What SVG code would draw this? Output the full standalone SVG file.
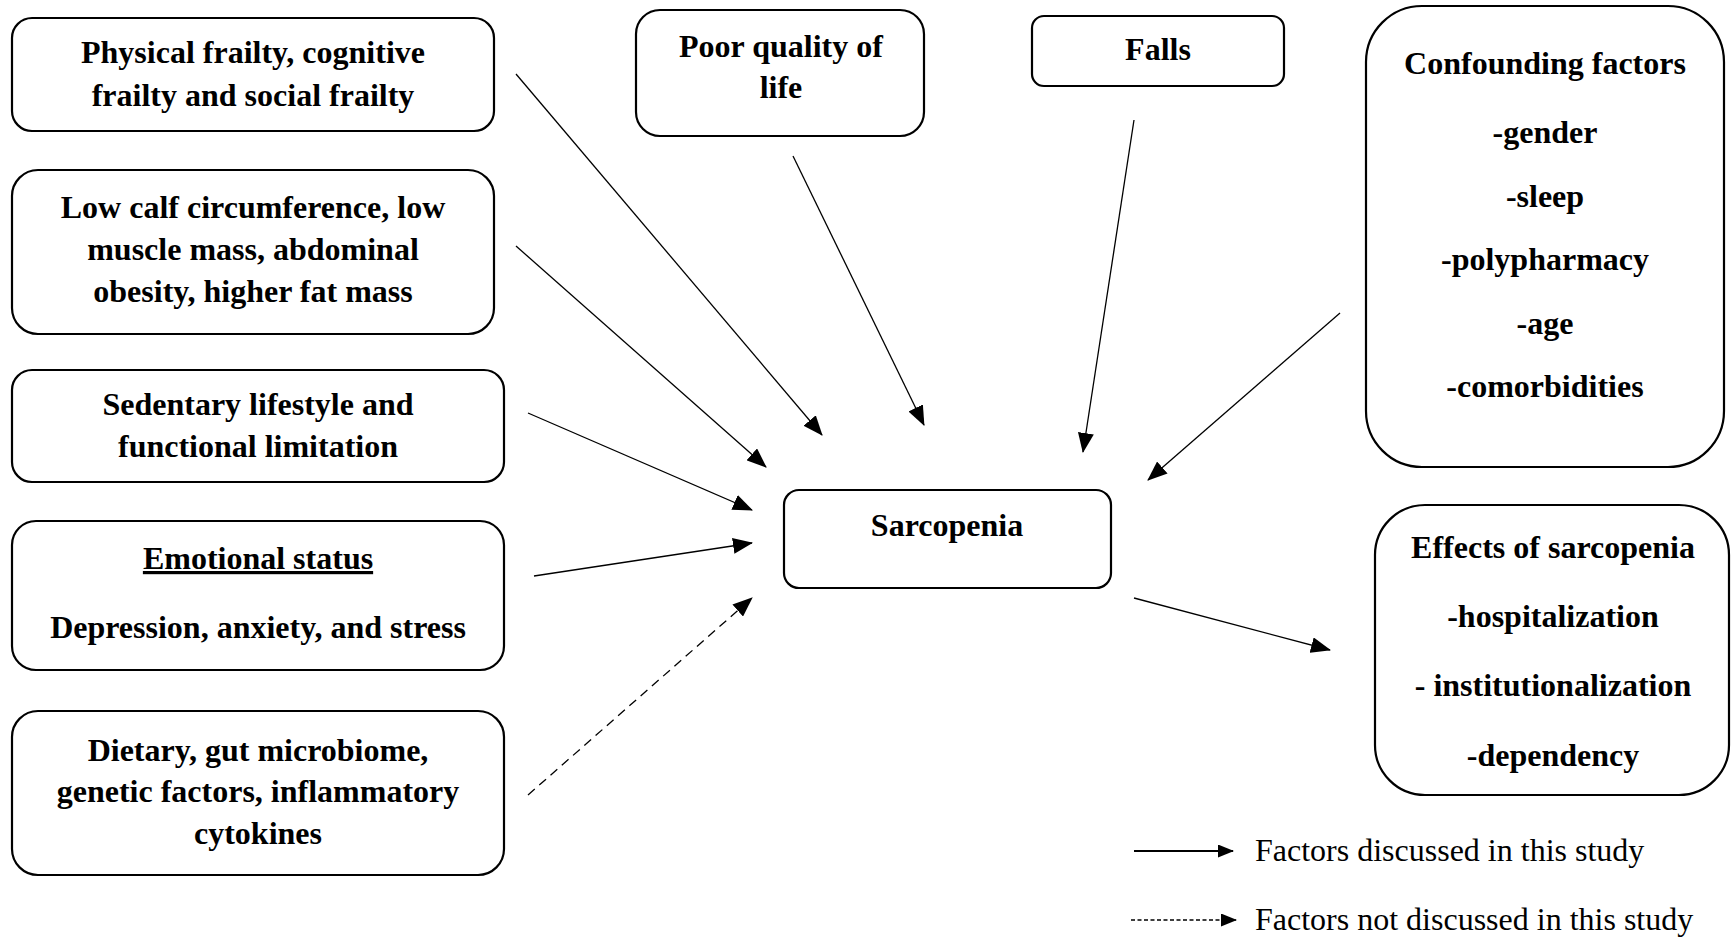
<svg xmlns="http://www.w3.org/2000/svg" width="1732" height="937" viewBox="0 0 1732 937">
<style>
.box{fill:#fff;stroke:#000;stroke-width:2.2}
.t{font-family:"Liberation Serif","Times New Roman",serif;font-weight:bold;font-size:32px;text-anchor:middle;fill:#000}
.lg{font-family:"Liberation Serif","Times New Roman",serif;font-size:32px;fill:#000}
.c{stroke:#000;stroke-width:1.3;fill:none}
</style>
<defs>
<marker id="ah" viewBox="0 0 20 16" refX="19" refY="8" markerWidth="20" markerHeight="16" markerUnits="userSpaceOnUse" orient="auto">
<path d="M0,0 L20,8 L0,16 z" fill="#000"/>
</marker>
<marker id="ahs" viewBox="0 0 16 13" refX="15" refY="6.5" markerWidth="16" markerHeight="13" markerUnits="userSpaceOnUse" orient="auto">
<path d="M0,0 L16,6.5 L0,13 z" fill="#000"/>
</marker>
</defs>
<rect width="1732" height="937" fill="#fff"/>

<g id="node-physical">
<rect class="box" x="12" y="18" width="482" height="113" rx="20"/>
<text class="t" x="253" y="63">Physical frailty, cognitive</text>
<text class="t" x="253" y="106">frailty and social frailty</text>
</g>
<g id="node-lowcalf">
<rect class="box" x="12" y="170" width="482" height="164" rx="26"/>
<text class="t" x="253" y="218">Low calf circumference, low</text>
<text class="t" x="253" y="260">muscle mass, abdominal</text>
<text class="t" x="253" y="302">obesity, higher fat mass</text>
</g>
<g id="node-sedentary">
<rect class="box" x="12" y="370" width="492" height="112" rx="20"/>
<text class="t" x="258" y="415">Sedentary lifestyle and</text>
<text class="t" x="258" y="457">functional limitation</text>
</g>
<g id="node-emotional">
<rect class="box" x="12" y="521" width="492" height="149" rx="24"/>
<text class="t" x="258" y="569" text-decoration="underline">Emotional status</text>
<text class="t" x="258" y="638">Depression, anxiety, and stress</text>
</g>
<g id="node-dietary">
<rect class="box" x="12" y="711" width="492" height="164" rx="26"/>
<text class="t" x="258" y="761">Dietary, gut microbiome,</text>
<text class="t" x="258" y="802">genetic factors, inflammatory</text>
<text class="t" x="258" y="844">cytokines</text>
</g>
<g id="node-quality">
<rect class="box" x="636" y="10" width="288" height="126" rx="24"/>
<text class="t" x="781" y="57">Poor quality of</text>
<text class="t" x="781" y="98">life</text>
</g>
<g id="node-falls">
<rect class="box" x="1032" y="16" width="252" height="70" rx="12"/>
<text class="t" x="1158" y="60">Falls</text>
</g>
<g id="node-confounding">
<rect class="box" x="1366" y="6" width="358" height="461" rx="56"/>
<text class="t" x="1545" y="74">Confounding factors</text>
<text class="t" x="1545" y="143">-gender</text>
<text class="t" x="1545" y="207">-sleep</text>
<text class="t" x="1545" y="270">-polypharmacy</text>
<text class="t" x="1545" y="334">-age</text>
<text class="t" x="1545" y="397">-comorbidities</text>
</g>
<g id="node-sarcopenia">
<rect class="box" x="784" y="490" width="327" height="98" rx="15"/>
<text class="t" x="947" y="536">Sarcopenia</text>
</g>
<g id="node-effects">
<rect class="box" x="1375" y="505" width="354" height="290" rx="50"/>
<text class="t" x="1553" y="558">Effects of sarcopenia</text>
<text class="t" x="1553" y="627">-hospitalization</text>
<text class="t" x="1553" y="696">- institutionalization</text>
<text class="t" x="1553" y="766">-dependency</text>
</g>

<g id="connectors">
<line class="c" x1="516" y1="74" x2="822" y2="435" marker-end="url(#ah)"/>
<line class="c" x1="516" y1="246" x2="766" y2="467" marker-end="url(#ah)"/>
<line class="c" x1="793" y1="156" x2="924" y2="425" marker-end="url(#ah)"/>
<line class="c" x1="528" y1="413" x2="752" y2="510" marker-end="url(#ah)"/>
<line class="c" x1="534" y1="576" x2="752" y2="543" marker-end="url(#ah)"/>
<line class="c" x1="528" y1="795" x2="752" y2="598" stroke-dasharray="9 6" marker-end="url(#ah)"/>
<line class="c" x1="1134" y1="120" x2="1083" y2="452" marker-end="url(#ah)"/>
<line class="c" x1="1340" y1="313" x2="1148" y2="480" marker-end="url(#ah)"/>
<line class="c" x1="1134" y1="598" x2="1330" y2="650" marker-end="url(#ah)"/>
</g>

<g id="legend">
<line x1="1134" y1="851" x2="1233" y2="851" stroke="#000" stroke-width="2" marker-end="url(#ahs)"/>
<text class="lg" x="1255" y="861">Factors discussed in this study</text>
<line x1="1131" y1="920" x2="1236" y2="920" stroke="#000" stroke-width="1.3" stroke-dasharray="4 2.5" marker-end="url(#ahs)"/>
<text class="lg" x="1255" y="930">Factors not discussed in this study</text>
</g>
</svg>
